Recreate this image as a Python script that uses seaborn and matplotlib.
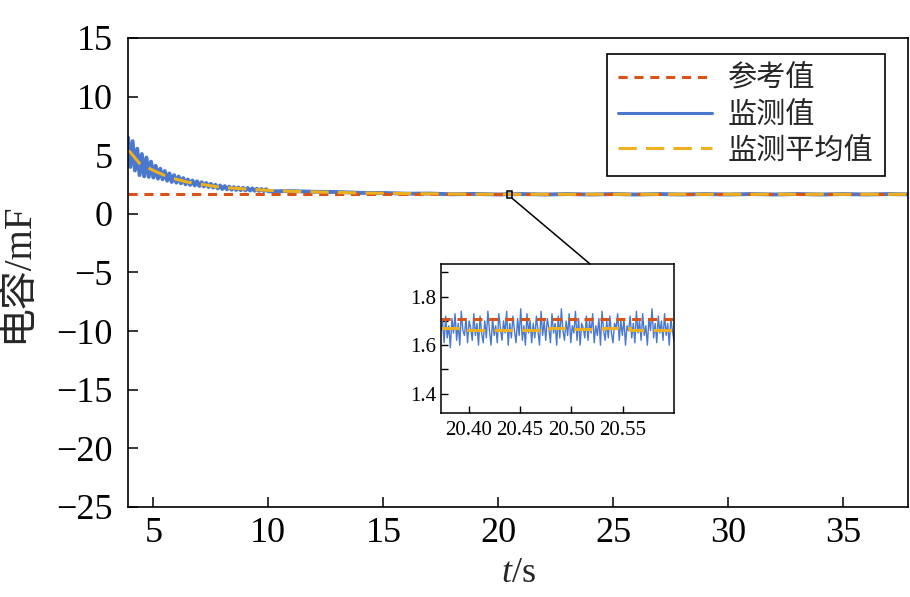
import numpy as np
import matplotlib
matplotlib.use("Agg")
import matplotlib.pyplot as plt
from matplotlib.patches import Rectangle, ConnectionPatch
from matplotlib.lines import Line2D
import seaborn as sns

# --- data ---
ref_value = 1.71

# monitored value, early transient (t = 3.9 .. 10.0 every 0.1 s)
blue_early = [6.5, 4.0, 6.2, 3.7, 5.55, 3.3, 5.1, 3.2, 4.8, 3.15,
              4.45, 3.1, 4.1, 3.0, 3.85, 2.95, 3.65, 2.82, 3.45, 2.72,
              3.3, 2.66, 3.18, 2.6, 3.05, 2.52, 2.93, 2.47, 2.84, 2.42,
              2.77, 2.38, 2.7, 2.34, 2.63, 2.29, 2.56, 2.24, 2.48, 2.17,
              2.42, 2.12, 2.37, 2.09, 2.32, 2.06, 2.28, 2.04, 2.25, 2.02,
              2.22, 2.0, 2.2, 1.99, 2.17, 1.97, 2.14, 1.96, 2.12, 1.94,
              2.1, 1.92]
# monitored value afterwards (t = 11 .. 37 every 1 s, then 37.8)
blue_late = [1.94, 1.88, 1.86, 1.79, 1.78, 1.72, 1.73, 1.67, 1.70, 1.65,
             1.69, 1.65, 1.69, 1.65, 1.69, 1.65, 1.69, 1.65, 1.69, 1.65,
             1.69, 1.65, 1.69, 1.65, 1.69, 1.65, 1.69, 1.66]

avg_t = [3.9, 4.0, 4.4, 5.0, 5.7, 6.5, 7.9, 9.35, 10.8, 12.2, 14, 16, 18, 20, 25, 30, 37.8]
avg_v = [5.4, 5.25, 4.3, 3.7, 3.1, 2.7, 2.27, 2.07, 1.93, 1.86, 1.78, 1.73, 1.69, 1.67, 1.67, 1.67, 1.67]

# zoomed window 20.373 .. 20.6 s
inset_blue = [1.66, 1.70, 1.61, 1.72, 1.63, 1.68, 1.59, 1.71, 1.65, 1.73, 1.62, 1.69, 1.60, 1.74, 1.66, 1.64, 1.71, 1.61, 1.70, 1.67,
              1.62, 1.73, 1.64, 1.69, 1.60, 1.72, 1.65, 1.61, 1.70, 1.63, 1.74, 1.66, 1.60, 1.71, 1.64, 1.68, 1.61, 1.73, 1.67, 1.62,
              1.70, 1.65, 1.74, 1.60, 1.69, 1.63, 1.72, 1.66, 1.61, 1.71, 1.64, 1.75, 1.62, 1.68, 1.60, 1.73, 1.65, 1.70, 1.61, 1.69,
              1.63, 1.72, 1.66, 1.60, 1.74, 1.64, 1.70, 1.62, 1.71, 1.67, 1.61, 1.73, 1.65, 1.69, 1.60, 1.72, 1.63, 1.75, 1.66, 1.62,
              1.70, 1.64, 1.73, 1.61, 1.68, 1.65, 1.74, 1.62, 1.71, 1.60, 1.69, 1.67, 1.63, 1.72, 1.62, 1.70, 1.65, 1.73, 1.61, 1.68,
              1.64, 1.71, 1.60, 1.74, 1.66, 1.62, 1.70, 1.63, 1.72, 1.65, 1.61, 1.69, 1.67, 1.73, 1.62, 1.70, 1.64, 1.71, 1.60, 1.68,
              1.66, 1.72, 1.63, 1.69, 1.61, 1.74, 1.65, 1.70, 1.62, 1.73, 1.64, 1.68, 1.60, 1.71, 1.66, 1.75, 1.63, 1.69, 1.61, 1.72,
              1.65, 1.70, 1.62, 1.73, 1.64, 1.69, 1.60, 1.71, 1.66, 1.62]
inset_avg_t = [20.373, 20.396, 20.478, 20.499, 20.531, 20.557, 20.6]
inset_avg_v = [1.672, 1.664, 1.671, 1.665, 1.671, 1.664, 1.664]

labels = ["参考值", "监测值", "监测平均值"]
c_ref, c_blue, c_avg = "#D95319", "#4A78CF", "#EDB120"

t_early = np.round(np.arange(3.9, 10.05, 0.1), 2)
t_late = list(range(11, 38)) + [37.8]
t_blue = np.concatenate([t_early, t_late])
v_blue = np.array(blue_early + blue_late)
t_inset = np.linspace(20.373, 20.6, len(inset_blue))

sns.set_style("ticks")
plt.rcParams["font.family"] = ["Liberation Serif", "Noto Sans CJK SC"]
plt.rcParams["mathtext.fontset"] = "custom"
plt.rcParams["mathtext.it"] = "Liberation Serif:italic"
plt.rcParams["mathtext.rm"] = "Liberation Serif"
plt.rcParams["axes.unicode_minus"] = True

fig = plt.figure(figsize=(9.1, 5.97), dpi=100)
ax = fig.add_axes([0.1407, 0.1508, 0.857, 0.7856])

ref_dash = (3, 2.2)
avg_dash = (6, 3)
sns.lineplot(x=t_blue, y=v_blue, ax=ax, color=c_blue, lw=2.8, estimator=None, sort=False)
ax.axhline(ref_value, color=c_ref, lw=2.2, dashes=ref_dash)
sns.lineplot(x=avg_t, y=avg_v, ax=ax, color=c_avg, lw=2.2, estimator=None)
ax.lines[-1].set_dashes(avg_dash)

ax.set_xlim(3.9, 37.8)
ax.set_ylim(-25, 15)
ax.set_xticks(range(5, 40, 5))
ax.set_yticks(range(-25, 20, 5))
ax.tick_params(direction="in", length=7, width=1.1, labelsize=26, colors="black")
ax.tick_params(axis="x", pad=7)
ax.tick_params(axis="y", pad=11)
for s in ax.spines.values():
    s.set_linewidth(1.2)
    s.set_color("black")
ax.set_xlabel(r"$\it{t}$/s", fontsize=26, labelpad=5)
ax.set_ylabel("电容/mF", fontsize=28)
ax.yaxis.set_label_coords(-0.118, 0.5)

handles = [Line2D([], [], color=c_ref, lw=2.2, dashes=ref_dash),
           Line2D([], [], color=c_blue, lw=2.2),
           Line2D([], [], color=c_avg, lw=2.2, dashes=avg_dash)]
leg = ax.legend(handles, labels, loc="upper right", bbox_to_anchor=(0.9705, 0.9659),
                borderaxespad=0, fontsize=21, handlelength=3.2, handletextpad=0.55,
                labelspacing=0.3, borderpad=0.4, fancybox=False, framealpha=1)
leg.get_frame().set_edgecolor("black")
leg.get_frame().set_linewidth(1.2)

# zoom box on the main curve
ax.add_patch(Rectangle((20.373, 1.32), 0.227, 0.61, fill=False, ec="black", lw=1.1, zorder=5))

# inset
axin = fig.add_axes([0.4846, 0.3082, 0.256, 0.2496])
sns.lineplot(x=t_inset, y=inset_blue, ax=axin, color=c_blue, lw=1.0, estimator=None)
axin.axhline(ref_value, color=c_ref, lw=2.2, dashes=ref_dash)
axin.plot(inset_avg_t, inset_avg_v, color=c_avg, lw=2.2, dashes=avg_dash, drawstyle="steps-post")
axin.set_xlim(20.373, 20.6)
axin.set_ylim(1.32, 1.935)
axin.set_xticks([20.40, 20.45, 20.50, 20.55])
axin.set_xticklabels(["20.40", "20.45", "20.50", "20.55"])
axin.set_yticks([1.4, 1.6, 1.8])
axin.set_yticks([1.5, 1.7, 1.9], minor=True)
axin.tick_params(which="both", direction="in", length=5, width=1.0, labelsize=15, colors="black")
axin.tick_params(axis="x", pad=6)
for s in axin.spines.values():
    s.set_linewidth(1.1)
    s.set_color("black")

con = ConnectionPatch(xyA=(20.6, 1.32), coordsA=ax.transData,
                      xyB=(0.64, 1.0), coordsB=axin.transAxes, color="black", lw=1.1)
fig.add_artist(con)

fig.savefig("out.png", dpi=100)
